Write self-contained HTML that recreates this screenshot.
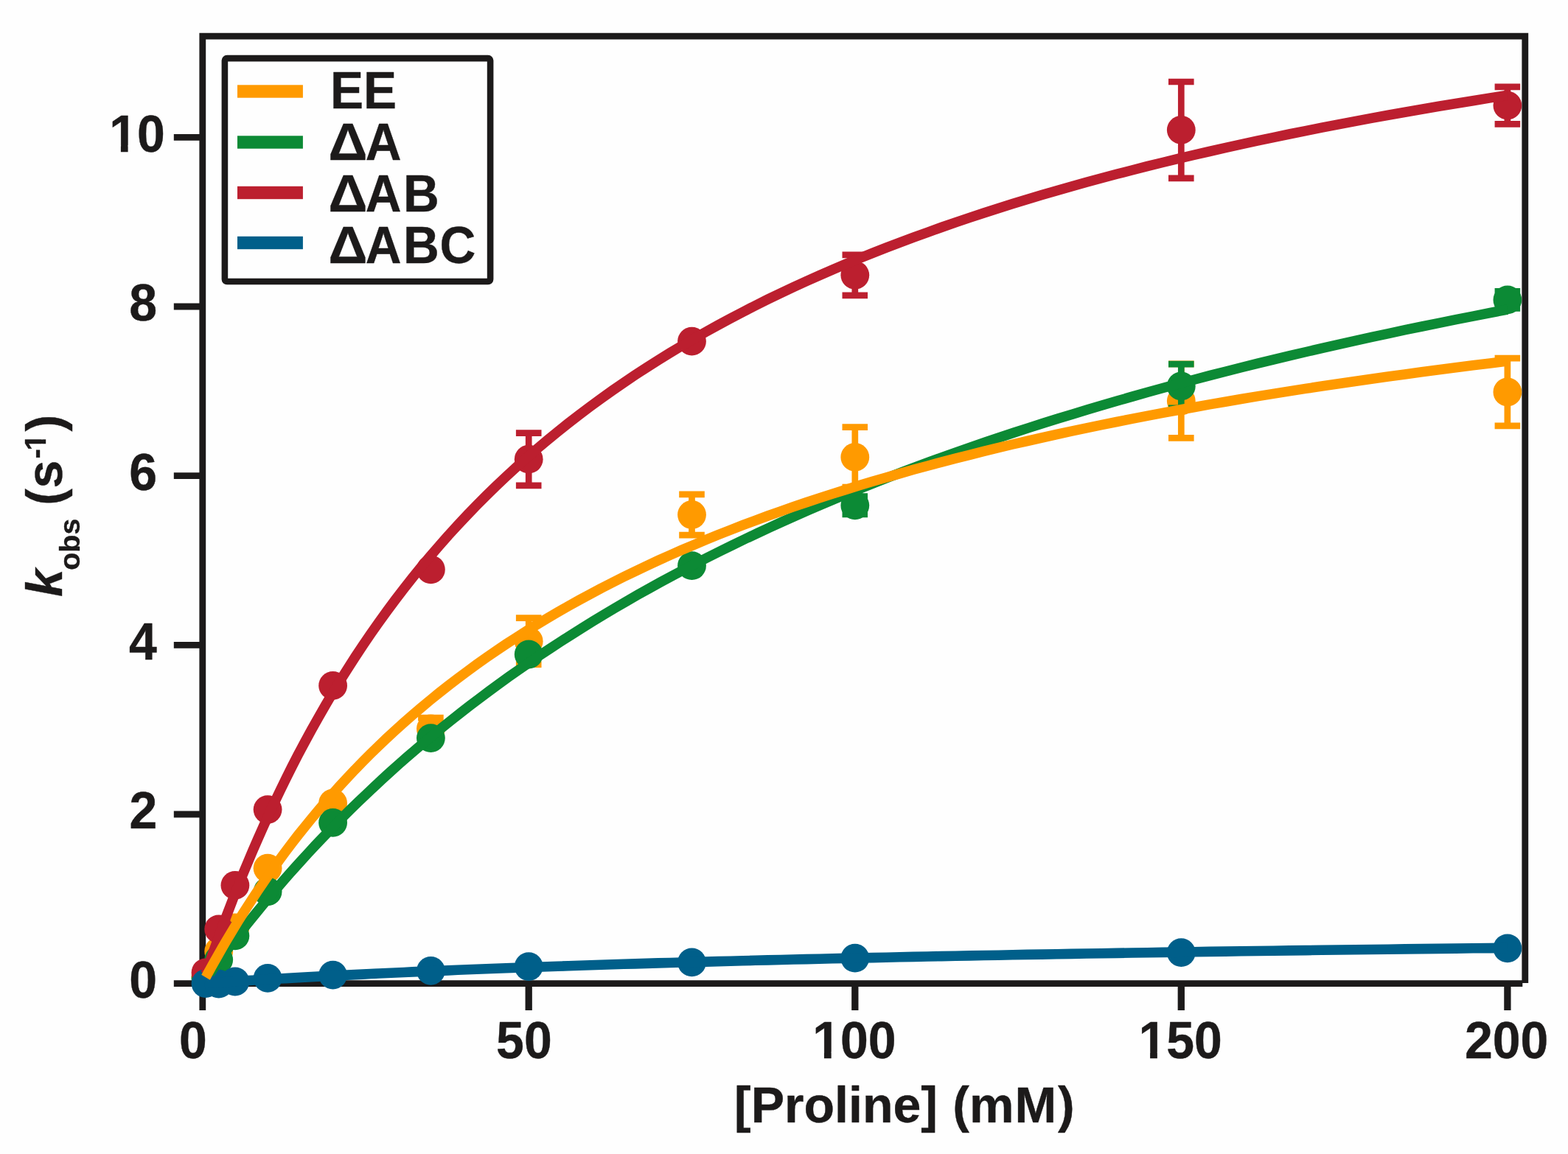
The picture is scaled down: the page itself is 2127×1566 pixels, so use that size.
<!DOCTYPE html>
<html lang="en">
<head>
<meta charset="utf-8">
<title>k obs versus proline concentration</title>
<style>
html,body{margin:0;padding:0;background:#fefefe;}
body{width:2127px;height:1566px;overflow:hidden;}
svg{display:block;filter:blur(0.35px);}
text{font-family:"Liberation Sans",sans-serif;font-weight:bold;fill:#1c1a1a;stroke:#1c1a1a;stroke-width:0.4px;stroke-linejoin:round;}
</style>
</head>
<body>
<svg width="2127" height="1566" viewBox="0 0 2127 1566">
<rect x="0" y="0" width="2127" height="1566" fill="#fefefe"/>
<g id="axes" stroke="#1c1a1a" stroke-width="8.8" fill="none">
<path d="M274.8 1371.0V49.2H2068.8V1334.1"/>
<path d="M235.8 1334.6H2065.3"/>
<path d="M235.8 1105.0H274.8"/>
<path d="M235.8 875.3H274.8"/>
<path d="M235.8 645.7H274.8"/>
<path d="M235.8 416.0H274.8"/>
<path d="M235.8 186.4H274.8"/>
<path stroke-width="9.3" d="M717.2 1334.6V1371.0"/>
<path stroke-width="9.3" d="M1159.8 1334.6V1371.0"/>
<path stroke-width="9.3" d="M1602.3 1334.6V1371.0"/>
<path stroke-width="9.3" d="M2044.9 1334.6V1371.0"/>
</g>
<g id="markers">
<g fill="#ff9a00" stroke="#ff9a00" stroke-width="8.7">
<circle cx="279.0" cy="1325.4" r="19.4" stroke="none"/>
<circle cx="296.7" cy="1291.0" r="19.4" stroke="none"/>
<circle cx="318.9" cy="1258.8" r="19.4" stroke="none"/>
<circle cx="363.1" cy="1178.2" r="19.4" stroke="none"/>
<circle cx="451.6" cy="1090.0" r="19.4" stroke="none"/>
<path d="M584.4 974.1V1003.9M567.1 974.1H601.7M567.1 1003.9H601.7" fill="none"/>
<circle cx="584.4" cy="989.0" r="19.4" stroke="none"/>
<path d="M717.2 838.6V901.7M699.9 838.6H734.5M699.9 901.7H734.5" fill="none"/>
<circle cx="717.2" cy="870.2" r="19.4" stroke="none"/>
<path d="M938.5 670.9V726.1M921.2 670.9H955.8M921.2 726.1H955.8" fill="none"/>
<circle cx="938.5" cy="698.5" r="19.4" stroke="none"/>
<path d="M1159.8 579.7V661.2M1142.5 579.7H1177.0M1142.5 661.2H1177.0" fill="none"/>
<circle cx="1159.8" cy="620.4" r="19.4" stroke="none"/>
<path d="M1602.3 493.8V594.4M1585.0 493.8H1619.6M1585.0 594.4H1619.6" fill="none"/>
<circle cx="1602.3" cy="544.1" r="19.4" stroke="none"/>
<path d="M2044.9 486.1V577.9M2027.6 486.1H2062.2M2027.6 577.9H2062.2" fill="none"/>
<circle cx="2044.9" cy="532.0" r="19.4" stroke="none"/>
</g>
<g fill="#0c8a35" stroke="#0c8a35" stroke-width="8.7">
<circle cx="279.0" cy="1327.7" r="19.4" stroke="none"/>
<circle cx="296.7" cy="1302.5" r="19.4" stroke="none"/>
<circle cx="318.9" cy="1269.8" r="19.4" stroke="none"/>
<circle cx="363.1" cy="1209.8" r="19.4" stroke="none"/>
<circle cx="451.6" cy="1116.4" r="19.4" stroke="none"/>
<circle cx="584.4" cy="1001.6" r="19.4" stroke="none"/>
<circle cx="717.2" cy="888.0" r="19.4" stroke="none"/>
<circle cx="938.5" cy="767.7" r="19.4" stroke="none"/>
<path d="M1159.8 673.7V697.8M1142.5 673.7H1177.0M1142.5 697.8H1177.0" fill="none"/>
<circle cx="1159.8" cy="685.8" r="19.4" stroke="none"/>
<path d="M1602.3 494.1V553.8M1585.0 494.1H1619.6M1585.0 553.8H1619.6" fill="none"/>
<circle cx="1602.3" cy="524.0" r="19.4" stroke="none"/>
<path d="M2044.9 395.4V418.3M2027.6 395.4H2062.2M2027.6 418.3H2062.2" fill="none"/>
<circle cx="2044.9" cy="406.9" r="19.4" stroke="none"/>
</g>
<g fill="#bc1f2f" stroke="#bc1f2f" stroke-width="8.7">
<circle cx="279.0" cy="1319.8" r="19.4" stroke="none"/>
<circle cx="296.7" cy="1260.8" r="19.4" stroke="none"/>
<circle cx="318.9" cy="1201.4" r="19.4" stroke="none"/>
<circle cx="363.1" cy="1098.6" r="19.4" stroke="none"/>
<circle cx="451.6" cy="930.4" r="19.4" stroke="none"/>
<circle cx="584.4" cy="772.8" r="19.4" stroke="none"/>
<path d="M717.2 587.6V658.8M699.9 587.6H734.5M699.9 658.8H734.5" fill="none"/>
<circle cx="717.2" cy="623.2" r="19.4" stroke="none"/>
<circle cx="938.5" cy="463.1" r="19.4" stroke="none"/>
<path d="M1159.8 345.8V400.9M1142.5 345.8H1177.0M1142.5 400.9H1177.0" fill="none"/>
<circle cx="1159.8" cy="373.3" r="19.4" stroke="none"/>
<path d="M1602.3 111.0V241.9M1585.0 111.0H1619.6M1585.0 241.9H1619.6" fill="none"/>
<circle cx="1602.3" cy="176.4" r="19.4" stroke="none"/>
<path d="M2044.9 117.9V168.4M2027.6 117.9H2062.2M2027.6 168.4H2062.2" fill="none"/>
<circle cx="2044.9" cy="143.1" r="19.4" stroke="none"/>
</g>
<g fill="#005f8a" stroke="#005f8a" stroke-width="8.7">
<circle cx="279.0" cy="1334.6" r="19.4" stroke="none"/>
<circle cx="296.7" cy="1335.2" r="19.4" stroke="none"/>
<circle cx="318.9" cy="1332.0" r="19.4" stroke="none"/>
<circle cx="363.1" cy="1327.4" r="19.4" stroke="none"/>
<circle cx="451.6" cy="1323.1" r="19.4" stroke="none"/>
<circle cx="584.4" cy="1317.4" r="19.4" stroke="none"/>
<circle cx="717.2" cy="1311.6" r="19.4" stroke="none"/>
<circle cx="938.5" cy="1305.9" r="19.4" stroke="none"/>
<circle cx="1159.8" cy="1300.2" r="19.4" stroke="none"/>
<circle cx="1602.3" cy="1292.6" r="19.4" stroke="none"/>
<circle cx="2044.9" cy="1286.8" r="19.4" stroke="none"/>
</g>
</g>
<g id="curves">
<polyline points="279.0,1334.3 279.9,1334.2 281.5,1334.1 283.9,1334.0 286.7,1333.8 290.0,1333.6 293.7,1333.3 297.8,1333.0 302.2,1332.8 307.0,1332.4 312.2,1332.1 317.6,1331.8 323.4,1331.4 329.4,1331.0 335.8,1330.6 342.4,1330.2 349.3,1329.8 356.5,1329.4 363.9,1328.9 371.6,1328.5 379.5,1328.0 387.6,1327.6 396.0,1327.1 404.6,1326.6 413.5,1326.1 422.6,1325.6 431.9,1325.1 441.4,1324.6 451.1,1324.1 461.0,1323.6 471.2,1323.1 481.5,1322.6 492.1,1322.1 502.8,1321.5 513.8,1321.0 524.9,1320.5 536.3,1320.0 547.8,1319.5 559.5,1318.9 571.4,1318.4 583.5,1317.9 595.8,1317.4 608.2,1316.9 620.9,1316.3 633.7,1315.8 646.7,1315.3 659.8,1314.8 673.1,1314.3 686.6,1313.8 700.3,1313.3 714.2,1312.7 728.2,1312.2 742.3,1311.7 756.7,1311.2 771.2,1310.8 785.8,1310.3 800.7,1309.8 815.6,1309.3 830.8,1308.8 846.1,1308.3 861.5,1307.9 877.2,1307.4 892.9,1306.9 908.8,1306.5 924.9,1306.0 941.1,1305.5 957.5,1305.1 974.0,1304.6 990.7,1304.2 1007.5,1303.8 1024.5,1303.3 1041.6,1302.9 1058.9,1302.5 1076.3,1302.0 1093.8,1301.6 1111.5,1301.2 1129.3,1300.8 1147.3,1300.4 1165.4,1300.0 1183.7,1299.6 1202.1,1299.2 1220.6,1298.8 1239.2,1298.4 1258.1,1298.0 1277.0,1297.6 1296.1,1297.3 1315.3,1296.9 1334.6,1296.5 1354.1,1296.2 1373.7,1295.8 1393.5,1295.4 1413.3,1295.1 1433.4,1294.7 1453.5,1294.4 1473.8,1294.0 1494.2,1293.7 1514.7,1293.4 1535.4,1293.0 1556.1,1292.7 1577.1,1292.4 1598.1,1292.1 1619.3,1291.7 1640.6,1291.4 1662.0,1291.1 1683.5,1290.8 1705.2,1290.5 1727.0,1290.2 1748.9,1289.9 1771.0,1289.6 1793.1,1289.3 1815.4,1289.0 1837.8,1288.8 1860.3,1288.5 1883.0,1288.2 1905.8,1287.9 1928.7,1287.6 1951.7,1287.4 1974.8,1287.1 1998.0,1286.8 2021.4,1286.6 2044.9,1286.3" fill="none" stroke="#005f8a" stroke-width="13.6" stroke-linejoin="round"/>
<polyline points="279.0,1321.5 279.9,1319.1 281.5,1314.1 283.9,1307.5 286.7,1299.4 290.0,1290.1 293.7,1279.7 297.8,1268.4 302.2,1256.3 307.0,1243.5 312.2,1230.0 317.6,1215.9 323.4,1201.4 329.4,1186.4 335.8,1171.1 342.4,1155.4 349.3,1139.5 356.5,1123.3 363.9,1106.9 371.6,1090.4 379.5,1073.8 387.6,1057.2 396.0,1040.4 404.6,1023.7 413.5,1007.0 422.6,990.3 431.9,973.7 441.4,957.1 451.1,940.6 461.0,924.3 471.2,908.1 481.5,892.0 492.1,876.0 502.8,860.2 513.8,844.6 524.9,829.2 536.3,813.9 547.8,798.9 559.5,784.0 571.4,769.3 583.5,754.8 595.8,740.6 608.2,726.5 620.9,712.7 633.7,699.0 646.7,685.6 659.8,672.4 673.1,659.4 686.6,646.6 700.3,634.0 714.2,621.6 728.2,609.4 742.3,597.5 756.7,585.7 771.2,574.1 785.8,562.8 800.7,551.6 815.6,540.7 830.8,529.9 846.1,519.3 861.5,508.9 877.2,498.7 892.9,488.7 908.8,478.9 924.9,469.2 941.1,459.7 957.5,450.4 974.0,441.2 990.7,432.2 1007.5,423.4 1024.5,414.7 1041.6,406.2 1058.9,397.9 1076.3,389.7 1093.8,381.6 1111.5,373.7 1129.3,365.9 1147.3,358.3 1165.4,350.8 1183.7,343.4 1202.1,336.2 1220.6,329.1 1239.2,322.1 1258.1,315.3 1277.0,308.5 1296.1,301.9 1315.3,295.4 1334.6,289.0 1354.1,282.8 1373.7,276.6 1393.5,270.5 1413.3,264.6 1433.4,258.7 1453.5,253.0 1473.8,247.3 1494.2,241.8 1514.7,236.3 1535.4,231.0 1556.1,225.7 1577.1,220.5 1598.1,215.4 1619.3,210.4 1640.6,205.5 1662.0,200.6 1683.5,195.9 1705.2,191.2 1727.0,186.6 1748.9,182.0 1771.0,177.6 1793.1,173.2 1815.4,168.8 1837.8,164.6 1860.3,160.4 1883.0,156.3 1905.8,152.2 1928.7,148.3 1951.7,144.3 1974.8,140.5 1998.0,136.7 2021.4,132.9 2044.9,129.2" fill="none" stroke="#bc1f2f" stroke-width="13.6" stroke-linejoin="round"/>
<polyline points="284.3,1321.0 285.2,1319.9 286.9,1317.6 289.1,1314.4 292.0,1310.6 295.2,1306.2 298.9,1301.2 303.0,1295.7 307.5,1289.8 312.2,1283.5 317.4,1276.9 322.8,1269.9 328.6,1262.5 334.6,1254.9 340.9,1247.0 347.5,1238.9 354.4,1230.5 361.5,1221.9 368.9,1213.1 376.6,1204.2 384.5,1195.0 392.6,1185.8 401.0,1176.4 409.6,1166.9 418.4,1157.2 427.4,1147.5 436.7,1137.7 446.2,1127.9 455.9,1117.9 465.8,1107.9 475.9,1097.9 486.2,1087.9 496.8,1077.8 507.5,1067.7 518.4,1057.5 529.5,1047.4 540.8,1037.3 552.3,1027.2 564.0,1017.1 575.9,1007.0 587.9,997.0 600.1,987.0 612.6,977.0 625.1,967.1 637.9,957.2 650.9,947.3 664.0,937.5 677.3,927.8 690.7,918.1 704.4,908.5 718.2,898.9 732.1,889.4 746.3,880.0 760.6,870.6 775.0,861.4 789.6,852.2 804.4,843.0 819.3,834.0 834.4,825.0 849.7,816.1 865.1,807.2 880.7,798.5 896.4,789.8 912.3,781.2 928.3,772.7 944.5,764.3 960.8,756.0 977.3,747.7 993.9,739.6 1010.6,731.5 1027.6,723.5 1044.6,715.6 1061.8,707.7 1079.2,700.0 1096.7,692.3 1114.3,684.7 1132.1,677.2 1150.0,669.8 1168.1,662.5 1186.3,655.2 1204.6,648.0 1223.1,640.9 1241.7,633.9 1260.4,627.0 1279.3,620.1 1298.3,613.3 1317.5,606.6 1336.8,600.0 1356.2,593.5 1375.7,587.0 1395.4,580.6 1415.2,574.3 1435.2,568.0 1455.3,561.9 1475.5,555.7 1495.8,549.7 1516.3,543.8 1536.9,537.9 1557.6,532.0 1578.5,526.3 1599.4,520.6 1620.6,515.0 1641.8,509.4 1663.1,504.0 1684.6,498.5 1706.2,493.2 1728.0,487.9 1749.8,482.7 1771.8,477.5 1793.9,472.4 1816.1,467.3 1838.4,462.4 1860.9,457.4 1883.5,452.6 1906.2,447.7 1929.0,443.0 1951.9,438.3 1975.0,433.6 1998.2,429.1 2021.5,424.5 2044.9,420.0" fill="none" stroke="#0c8a35" stroke-width="13.6" stroke-linejoin="round"/>
<polyline points="279.0,1326.3 279.9,1324.8 281.5,1321.6 283.9,1317.4 286.7,1312.3 290.0,1306.4 293.7,1299.8 297.8,1292.6 302.2,1284.8 307.0,1276.6 312.2,1267.9 317.6,1258.9 323.4,1249.5 329.4,1239.8 335.8,1229.9 342.4,1219.7 349.3,1209.3 356.5,1198.7 363.9,1188.0 371.6,1177.2 379.5,1166.2 387.6,1155.2 396.0,1144.2 404.6,1133.0 413.5,1121.9 422.6,1110.8 431.9,1099.6 441.4,1088.5 451.1,1077.4 461.0,1066.4 471.2,1055.4 481.5,1044.4 492.1,1033.6 502.8,1022.8 513.8,1012.1 524.9,1001.5 536.3,991.0 547.8,980.6 559.5,970.3 571.4,960.2 583.5,950.1 595.8,940.1 608.2,930.3 620.9,920.6 633.7,911.1 646.7,901.6 659.8,892.3 673.1,883.1 686.6,874.0 700.3,865.1 714.2,856.3 728.2,847.6 742.3,839.1 756.7,830.6 771.2,822.4 785.8,814.2 800.7,806.2 815.6,798.2 830.8,790.5 846.1,782.8 861.5,775.3 877.2,767.8 892.9,760.5 908.8,753.4 924.9,746.3 941.1,739.4 957.5,732.5 974.0,725.8 990.7,719.2 1007.5,712.7 1024.5,706.3 1041.6,700.0 1058.9,693.8 1076.3,687.7 1093.8,681.8 1111.5,675.9 1129.3,670.1 1147.3,664.4 1165.4,658.8 1183.7,653.3 1202.1,647.9 1220.6,642.6 1239.2,637.3 1258.1,632.2 1277.0,627.1 1296.1,622.2 1315.3,617.3 1334.6,612.4 1354.1,607.7 1373.7,603.0 1393.5,598.5 1413.3,594.0 1433.4,589.5 1453.5,585.2 1473.8,580.9 1494.2,576.6 1514.7,572.5 1535.4,568.4 1556.1,564.4 1577.1,560.4 1598.1,556.5 1619.3,552.7 1640.6,548.9 1662.0,545.2 1683.5,541.5 1705.2,537.9 1727.0,534.4 1748.9,530.9 1771.0,527.4 1793.1,524.1 1815.4,520.7 1837.8,517.4 1860.3,514.2 1883.0,511.0 1905.8,507.9 1928.7,504.8 1951.7,501.8 1974.8,498.8 1998.0,495.8 2021.4,492.9 2044.9,490.1" fill="none" stroke="#ff9a00" stroke-width="13.6" stroke-linejoin="round"/>
</g>
<g id="ylabels">
<text transform="translate(175.3 1353.9) scale(1 1.03)" font-size="68">0</text>
<text transform="translate(175.5 1124.3) scale(1 1.03)" font-size="68">2</text>
<text transform="translate(175.0 894.6) scale(1 1.03)" font-size="68">4</text>
<text transform="translate(175.2 665.0) scale(1 1.03)" font-size="68">6</text>
<text transform="translate(175.2 435.3) scale(1 1.03)" font-size="68">8</text>
<text transform="translate(148.2 205.7) scale(1 1.03)" font-size="68">10</text><rect x="150.08" y="197.26" width="13.79" height="10.24" fill="#fefefe"/><rect x="173.60" y="197.26" width="12.92" height="10.24" fill="#fefefe"/>
</g>
<g id="xlabels">
<text transform="translate(243.1 1436.0) scale(1 1.03)" font-size="68">0</text>
<text transform="translate(673.1 1436.0) scale(1 1.03)" font-size="68">50</text>
<text transform="translate(1102.2 1436.0) scale(1 1.03)" font-size="68">100</text><rect x="1104.12" y="1427.56" width="13.79" height="10.24" fill="#fefefe"/><rect x="1127.64" y="1427.56" width="12.92" height="10.24" fill="#fefefe"/>
<text transform="translate(1544.4 1436.0) scale(1 1.03)" font-size="68">150</text><rect x="1546.32" y="1427.56" width="13.79" height="10.24" fill="#fefefe"/><rect x="1569.84" y="1427.56" width="12.92" height="10.24" fill="#fefefe"/>
<text transform="translate(1986.9 1436.0) scale(1 1.03)" font-size="68">200</text>
</g>
<text id="xtitle" x="996.1" y="1523.2" font-size="68">[Proline] <tspan x="1292.3 1314.9 1376.4 1435.0">(mM)</tspan></text>
<text id="ytitle" transform="translate(84.0 810.1) rotate(-90)" font-size="68"><tspan font-style="italic" x="0" y="0">k</tspan><tspan font-size="39.5" x="36.3" y="23.5">obs </tspan><tspan x="124.3 147.7" y="0">(s</tspan><tspan font-size="40.5" x="187.6 198.6" y="-22.3">-1</tspan><tspan x="224.6" y="0">)</tspan></text>
<g transform="translate(84.0 810.1) rotate(-90)"><rect x="198.75" y="-27.73" width="9.10" height="7.23" fill="#fefefe"/><rect x="213.81" y="-27.73" width="8.59" height="7.23" fill="#fefefe"/></g>
<g id="legend">
<rect x="304.9" y="79.1" width="360.2" height="302.9" rx="3" ry="3" fill="#fefefe" stroke="#1c1a1a" stroke-width="8.6"/>
<rect x="322" y="115.3" width="88.9" height="17.4" fill="#ff9a00"/>
<text transform="translate(447.9 147.0) scale(1 1.03)" font-size="67.5">EE</text>
<rect x="322" y="184.3" width="88.9" height="17.4" fill="#0c8a35"/>
<text transform="translate(445.6 217.0) scale(1 1.03)" font-size="67.5"><tspan x="-0.2" textLength="52.9" lengthAdjust="spacingAndGlyphs">Δ</tspan><tspan x="50.2">A</tspan></text>
<rect x="322" y="252.8" width="88.9" height="17.4" fill="#bc1f2f"/>
<text transform="translate(445.6 286.9) scale(1 1.03)" font-size="67.5"><tspan x="-0.2" textLength="52.9" lengthAdjust="spacingAndGlyphs">Δ</tspan><tspan x="50.2 101.4">AB</tspan></text>
<rect x="322" y="320.8" width="88.9" height="17.4" fill="#005f8a"/>
<text transform="translate(445.6 356.8) scale(1 1.03)" font-size="67.5"><tspan x="-0.2" textLength="52.9" lengthAdjust="spacingAndGlyphs">Δ</tspan><tspan x="50.2 101.4 150.8">ABC</tspan></text>
</g>
</svg>
</body>
</html>
